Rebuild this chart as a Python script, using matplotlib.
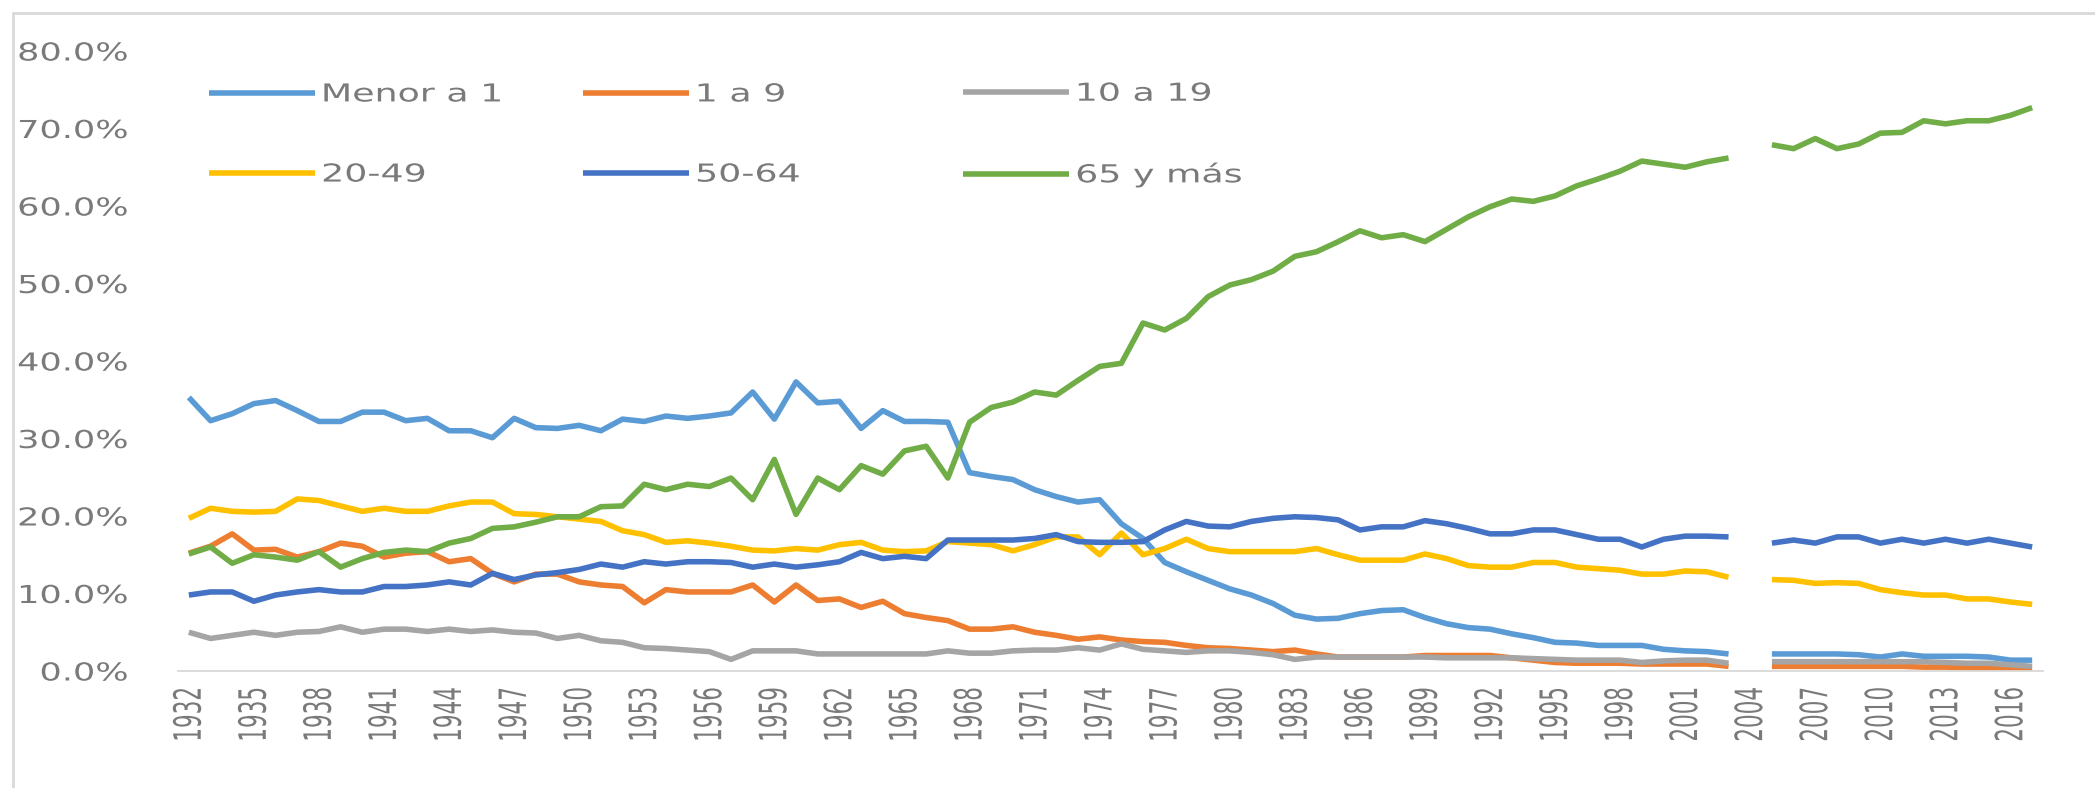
import numpy as np
import matplotlib
matplotlib.use("Agg")
import matplotlib.pyplot as plt
from matplotlib.ticker import PercentFormatter, FixedLocator
from matplotlib.patheffects import AbstractPathEffect
from matplotlib.transforms import Affine2D
from matplotlib.patches import Rectangle

nan = np.nan
years = list(range(1932, 2018))

menor_a_1 = [35.3, 32.3, 33.2, 34.5, 34.9, 33.6, 32.2, 32.2, 33.4, 33.4,
             32.3, 32.6, 31.0, 31.0, 30.1, 32.6, 31.4, 31.3, 31.7, 31.0,
             32.5, 32.2, 32.9, 32.6, 32.9, 33.3, 36.0, 32.5, 37.3, 34.6,
             34.8, 31.3, 33.6, 32.2, 32.2, 32.1, 25.6, 25.1, 24.7, 23.4,
             22.5, 21.8, 22.1, 19.0, 17.1, 14.0, 12.8, 11.7, 10.6, 9.8,
             8.7, 7.2, 6.7, 6.8, 7.4, 7.8, 7.9, 6.9, 6.1, 5.6,
             5.4, 4.8, 4.3, 3.7, 3.6, 3.3, 3.3, 3.3, 2.8, 2.6,
             2.5, 2.2, nan, 2.2, 2.2, 2.2, 2.2, 2.1, 1.8, 2.2,
             1.9, 1.9, 1.9, 1.8, 1.4, 1.4]
uno_a_9 = [15.2, 16.1, 17.7, 15.6, 15.7, 14.7, 15.4, 16.5, 16.1, 14.7,
           15.2, 15.4, 14.1, 14.5, 12.6, 11.5, 12.5, 12.5, 11.5, 11.1,
           10.9, 8.8, 10.5, 10.2, 10.2, 10.2, 11.1, 8.9, 11.1, 9.1,
           9.3, 8.2, 9.0, 7.4, 6.9, 6.5, 5.4, 5.4, 5.7, 5.0,
           4.6, 4.1, 4.4, 4.0, 3.8, 3.7, 3.3, 3.0, 2.9, 2.7,
           2.5, 2.7, 2.2, 1.8, 1.8, 1.8, 1.8, 2.0, 2.0, 2.0,
           2.0, 1.7, 1.4, 1.1, 1.0, 1.0, 1.0, 0.9, 0.9, 0.9,
           0.9, 0.6, nan, 0.6, 0.6, 0.6, 0.6, 0.6, 0.6, 0.6,
           0.5, 0.5, 0.4, 0.4, 0.2, 0.2]
diez_a_19 = [5.0, 4.2, 4.6, 5.0, 4.6, 5.0, 5.1, 5.7, 5.0, 5.4,
             5.4, 5.1, 5.4, 5.1, 5.3, 5.0, 4.9, 4.2, 4.6, 3.9,
             3.7, 3.0, 2.9, 2.7, 2.5, 1.5, 2.6, 2.6, 2.6, 2.2,
             2.2, 2.2, 2.2, 2.2, 2.2, 2.6, 2.3, 2.3, 2.6, 2.7,
             2.7, 3.0, 2.7, 3.5, 2.8, 2.6, 2.4, 2.6, 2.6, 2.4,
             2.1, 1.5, 1.8, 1.8, 1.8, 1.8, 1.8, 1.8, 1.7, 1.7,
             1.7, 1.7, 1.6, 1.5, 1.4, 1.4, 1.4, 1.1, 1.3, 1.4,
             1.4, 1.0, nan, 1.2, 1.2, 1.2, 1.2, 1.2, 1.2, 1.2,
             1.2, 1.1, 1.0, 1.0, 0.8, 0.6]
veinte_49 = [19.7, 21.0, 20.6, 20.5, 20.6, 22.2, 22.0, 21.3, 20.6, 21.0,
             20.6, 20.6, 21.3, 21.8, 21.8, 20.3, 20.2, 19.9, 19.6, 19.3,
             18.1, 17.6, 16.6, 16.8, 16.5, 16.1, 15.6, 15.5, 15.8, 15.6,
             16.3, 16.6, 15.6, 15.4, 15.5, 16.7, 16.5, 16.3, 15.5, 16.3,
             17.3, 17.3, 15.0, 17.8, 15.0, 15.8, 17.0, 15.8, 15.4, 15.4,
             15.4, 15.4, 15.8, 15.0, 14.3, 14.3, 14.3, 15.1, 14.5, 13.6,
             13.4, 13.4, 14.0, 14.0, 13.4, 13.2, 13.0, 12.5, 12.5, 12.9,
             12.8, 12.1, nan, 11.8, 11.7, 11.3, 11.4, 11.3, 10.5, 10.1,
             9.8, 9.8, 9.3, 9.3, 8.9, 8.6]
cincuenta_64 = [9.8, 10.2, 10.2, 9.0, 9.8, 10.2, 10.5, 10.2, 10.2, 10.9,
                10.9, 11.1, 11.5, 11.1, 12.6, 11.8, 12.4, 12.7, 13.1, 13.8,
                13.4, 14.1, 13.8, 14.1, 14.1, 14.0, 13.4, 13.8, 13.4, 13.7,
                14.1, 15.3, 14.5, 14.8, 14.5, 16.9, 16.9, 16.9, 16.9, 17.1,
                17.6, 16.7, 16.6, 16.6, 16.7, 18.2, 19.3, 18.7, 18.6, 19.3,
                19.7, 19.9, 19.8, 19.5, 18.2, 18.6, 18.6, 19.4, 19.0, 18.4,
                17.7, 17.7, 18.2, 18.2, 17.6, 17.0, 17.0, 16.0, 17.0, 17.4,
                17.4, 17.3, nan, 16.5, 16.9, 16.5, 17.3, 17.3, 16.5, 17.0,
                16.5, 17.0, 16.5, 17.0, 16.5, 16.0]
sesenta5_mas = [15.1, 16.0, 13.9, 15.0, 14.7, 14.3, 15.4, 13.4, 14.5, 15.3,
                15.6, 15.4, 16.5, 17.1, 18.4, 18.6, 19.2, 19.9, 19.9, 21.2,
                21.3, 24.1, 23.4, 24.1, 23.8, 24.9, 22.1, 27.3, 20.2, 24.9,
                23.4, 26.5, 25.4, 28.4, 29.0, 24.9, 32.1, 34.0, 34.7, 36.0,
                35.6, 37.5, 39.3, 39.7, 44.9, 44.0, 45.5, 48.3, 49.8, 50.5,
                51.6, 53.5, 54.1, 55.4, 56.8, 55.9, 56.3, 55.4, 57.0, 58.6,
                59.9, 60.9, 60.6, 61.3, 62.6, 63.5, 64.5, 65.8, 65.4, 65.0,
                65.7, 66.2, nan, 67.9, 67.4, 68.7, 67.4, 68.0, 69.4, 69.5,
                71.0, 70.6, 71.0, 71.0, 71.7, 72.7]

series_labels = ["Menor a 1", "1 a 9", "10 a 19", "20-49", "50-64", "65 y más"]
series_colors = ["#5B9BD5", "#ED7D31", "#A5A5A5", "#FFC000", "#4472C4", "#70AD47"]
y_ticks = [0.0, 0.1, 0.2, 0.3, 0.4, 0.5, 0.6, 0.7, 0.8]
x_tick_years = list(range(1932, 2017, 3))


class HStretch(AbstractPathEffect):
    """Widen rendered text horizontally (the reference is a stretched screenshot)."""
    def __init__(self, sx, anchor="left"):
        super().__init__()
        self.sx = sx
        self.anchor = anchor

    def draw_path(self, renderer, gc, tpath, affine, rgbFace=None):
        ext = tpath.get_extents(affine)
        if self.anchor == "left":
            x0 = ext.x0
        elif self.anchor == "right":
            x0 = ext.x1
        else:
            x0 = 0.5 * (ext.x0 + ext.x1)
        aff = affine + Affine2D().translate(-x0, 0).scale(self.sx, 1.0).translate(x0, 0)
        renderer.draw_path(gc, tpath, aff, rgbFace)


W, H = 2095, 788
fig = plt.figure(figsize=(W / 100, H / 100), dpi=100)
fig.patch.set_facecolor("white")

# outer chart frame (only left/top edges visible in the screenshot)
fig.add_artist(Rectangle((13 / W, -0.2), 1.2, 1.2 - 13 / H, transform=fig.transFigure,
                         fill=False, edgecolor="#d9d9d9", linewidth=2.0))

ax_left, ax_right = 178 / W, 2043 / W
ax_bottom, ax_top = (H - 671) / H, (H - 51) / H
ax = fig.add_axes([ax_left, ax_bottom, ax_right - ax_left, ax_top - ax_bottom])

all_series = [menor_a_1, uno_a_9, diez_a_19, veinte_49, cincuenta_64, sesenta5_mas]
idx = np.arange(len(years))
lines = []
for vals, lab, col in zip(all_series, series_labels, series_colors):
    v = np.array(vals, dtype=float) / 100.0
    ln, = ax.plot(idx, v, color=col, linewidth=4.0, label=lab,
                  solid_joinstyle="round", solid_capstyle="butt")
    lines.append(ln)

ax.set_xlim(-0.5, len(years) - 0.5)
ax.set_ylim(0, 0.8)
ax.yaxis.set_major_locator(FixedLocator(y_ticks))
ax.yaxis.set_major_formatter(PercentFormatter(xmax=1, decimals=1))
ax.set_xticks([years.index(y) for y in x_tick_years])
ax.set_xticklabels([str(y) for y in x_tick_years], rotation=90)

text_color = "#7a7a7a"
ax.tick_params(axis="y", length=0, pad=36, labelsize=17.8, labelcolor=text_color)
ax.tick_params(axis="x", length=0, pad=11.5, labelsize=15.5, labelcolor=text_color)
for t in ax.get_yticklabels():
    t.set_path_effects([HStretch(1.42, "right")])
for t in ax.get_xticklabels():
    t.set_path_effects([HStretch(1.75, "center")])

for s in ["left", "right", "top"]:
    ax.spines[s].set_visible(False)
ax.spines["bottom"].set_color("#d9d9d9")
ax.spines["bottom"].set_linewidth(1.3)

# legend: three columns of two rows, positioned like the reference
col_x = [209, 583, 963]
row_mid_y = (92 + 177) / 2
fs = 17.8
order = [[0, 3], [1, 4], [2, 5]]
legs = []
for cx, ids in zip(col_x, order):
    leg = ax.legend([lines[i] for i in ids], [series_labels[i] for i in ids],
                    loc="center left", bbox_to_anchor=(cx / W, 1 - row_mid_y / H),
                    bbox_transform=fig.transFigure, frameon=False, fontsize=fs,
                    handlelength=4.29, handletextpad=0.28, labelspacing=2.27,
                    borderpad=0, borderaxespad=0, labelcolor=text_color)
    for t in leg.get_texts():
        t.set_path_effects([HStretch(1.47, "left")])
    legs.append(leg)
for leg in legs[:-1]:
    ax.add_artist(leg)

fig.savefig("out.png", dpi=100, facecolor="white")
